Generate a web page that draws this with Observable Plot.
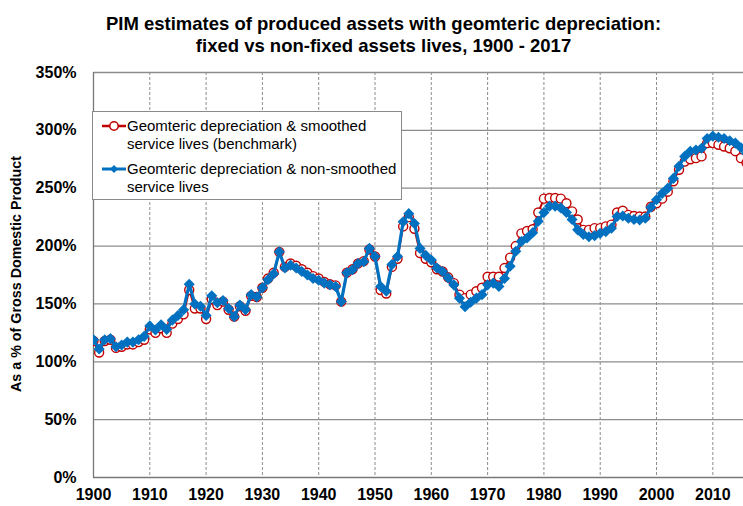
<!DOCTYPE html>
<html>
<head>
<meta charset="utf-8">
<script src="https://cdn.jsdelivr.net/npm/d3@7"></script>
<script src="https://cdn.jsdelivr.net/npm/@observablehq/plot@0.6"></script>
<style>
  html, body { margin: 0; padding: 0; background: #fff; }
  #wrap { position: relative; width: 743px; height: 506px; overflow: hidden; font-family: "Liberation Sans", Arial, sans-serif; }
  #title { position: absolute; left: 0; top: 12.5px; width: 767px; text-align: center; font-weight: bold; font-size: 18.5px; line-height: 22px; color: #000; }
  #ylabel { position: absolute; left: 16px; top: 274px; transform: translate(-50%, -50%) rotate(-90deg); white-space: nowrap; font-weight: bold; font-size: 14.3px; color: #000; }
  #chart { position: absolute; left: 0; top: 60px; }
  #legend { position: absolute; left: 92px; top: 111px; width: 308px; height: 87px; border: 1px solid #8a8a8a; background: #fff; font-size: 15px; color: #000; }
  #legend .t { position: absolute; left: 34px; white-space: nowrap; line-height: 17px; }
  #legend svg { position: absolute; left: 8px; }
</style>
</head>
<body>
<div id="wrap">
  <div id="title">PIM estimates of produced assets with geomteric depreciation:<br>fixed vs non-fixed assets lives, 1900 - 2017</div>
  <div id="chart"></div>
  <div id="ylabel">As a % of Gross Domestic Product</div>
  <div id="legend"></div>
</div>
<script>
const firstYear = 1900;
const smoothedLabel = ["Geomteric depreciation & smoothed", "service lives (benchmark)"];
const nonSmoothedLabel = ["Geomteric depreciation & non-smoothed", "service lives"];
const xTicks = [1900, 1910, 1920, 1930, 1940, 1950, 1960, 1970, 1980, 1990, 2000, 2010];
const yTicks = [0, 50, 100, 150, 200, 250, 300, 350];

// Geometric depreciation & smoothed service lives (benchmark), % of GDP, 1900-2017
const smoothed = [
  118, 108, 118, 119, 112, 113, 115, 115, 117, 119,
  128, 125, 129, 125, 133, 137, 141, 162, 146, 146,
  137, 154, 149, 152, 145, 139, 148, 144, 157, 156,
  164, 172, 177, 195, 182, 185, 183, 180, 177, 174,
  172, 169, 167, 166, 152, 177, 180, 185, 187, 197,
  191, 162, 159, 182, 189, 217, 225, 215, 194, 189,
  186, 180, 178, 173, 168, 158, 155, 158, 161, 164,
  173.5, 173.5, 173.5, 181, 190, 200, 211, 213, 214.5, 229,
  241, 241.5, 241.5, 241, 237, 230, 223, 214, 214, 215.5,
  215.5, 217, 218.5, 229, 230.5, 227, 226, 225.5, 225.5, 234,
  237, 241, 247, 256, 266, 273, 275, 276, 277.5, 289,
  289, 287.5, 286, 284.5, 282, 276, 272, 268
];

// Geometric depreciation & non-smoothed service lives, % of GDP, 1900-2017
const nonSmoothed = [
  119, 111, 119, 120, 113, 114.5, 117, 117, 119, 122,
  131, 127.5, 132, 128, 136, 140, 145, 167, 150, 148,
  140, 157, 151, 153, 146, 139, 149, 145, 158, 156,
  164, 171, 176, 195, 181, 183.5, 181, 178, 175, 172,
  170.5, 168, 166.5, 165, 152, 177, 179.5, 185, 186.5, 198,
  191, 165, 161, 184, 191, 221, 228, 219.5, 198, 192,
  188, 181, 178, 172.5, 166.5, 155, 147.5, 151.5, 155, 158,
  166.5, 168, 165, 172, 182.5, 195.5, 204, 207, 211.5, 221.5,
  229, 234.5, 234.5, 233, 229, 223, 214, 210, 208, 209,
  211, 212.5, 215.5, 225.5, 226, 224, 223, 222.5, 224, 233.5,
  240, 245.5, 250, 258.5, 269, 277.5, 282, 283, 284.5, 293,
  295, 294, 293, 291, 289, 285, 280, 276
];

const redColor = "#c00000";
const blueColor = "#0070c0";

const sData = smoothed.map((v, i) => ({year: firstYear + i, value: v}));
const nData = nonSmoothed.map((v, i) => ({year: firstYear + i, value: v}));

const chart = Plot.plot({
  width: 743,
  height: 446,
  marginTop: 12,
  marginLeft: 93,
  marginRight: 0,
  marginBottom: 29,
  style: {fontFamily: "'Liberation Sans', Arial, sans-serif", fontWeight: "bold", color: "#000", background: "transparent"},
  x: {domain: [1900, 2015.45], label: null},
  y: {domain: [0, 350], label: null},
  marks: [
    Plot.ruleX(xTicks.filter(d => d > 1900), {stroke: "#8c8c8c", strokeWidth: 1, strokeDasharray: "3,2"}),
    Plot.ruleY(yTicks.filter(d => d > 0), {stroke: "#8c8c8c", strokeWidth: 1.3}),
    Plot.ruleY([0], {stroke: "#777", strokeWidth: 1.3}),
    Plot.ruleX([1900], {stroke: "#777", strokeWidth: 1.3}),
    Plot.axisX({ticks: xTicks, tickFormat: d => String(d), tickSize: 0, tickPadding: 11, fontSize: 16, fontWeight: "bold", label: null}),
    Plot.axisY({ticks: yTicks, tickFormat: d => d + "%", tickSize: 0, tickPadding: 17, fontSize: 16, fontWeight: "bold", label: null}),
    Plot.line(sData, {x: "year", y: "value", stroke: redColor, strokeWidth: 2, clip: true}),
    Plot.dot(sData, {x: "year", y: "value", r: 4.5, fill: "white", stroke: redColor, strokeWidth: 1.4, clip: true}),
    Plot.line(nData, {x: "year", y: "value", stroke: blueColor, strokeWidth: 3.2, clip: true}),
    Plot.dot(nData, {x: "year", y: "value", r: 5, symbol: "diamond2", fill: blueColor, stroke: "none", clip: true})
  ]
});
document.getElementById("chart").appendChild(chart);

// Legend
const legend = document.getElementById("legend");
function addItem(lines, top, kind) {
  const svg = d3.create("svg").attr("width", 26).attr("height", 12).style("top", (top + 2.5) + "px");
  const color = kind === "circle" ? redColor : blueColor;
  svg.append("line").attr("x1", 1).attr("x2", 25).attr("y1", 6).attr("y2", 6)
    .attr("stroke", color).attr("stroke-width", kind === "circle" ? 2.5 : 3);
  if (kind === "circle") {
    svg.append("circle").attr("cx", 13).attr("cy", 6).attr("r", 4.2).attr("fill", "white").attr("stroke", color).attr("stroke-width", 1.5);
  } else {
    svg.append("path").attr("transform", "translate(13,6)").attr("d", d3.symbol(d3.symbolDiamond2, 40)()).attr("fill", color);
  }
  legend.appendChild(svg.node());
  lines.forEach((txt, i) => {
    const d = document.createElement("div");
    d.className = "t";
    d.style.top = (top + i * 17.5) + "px";
    d.textContent = txt;
    legend.appendChild(d);
  });
}
addItem(smoothedLabel, 5, "circle");
addItem(nonSmoothedLabel, 48, "diamond");
</script>
</body>
</html>
